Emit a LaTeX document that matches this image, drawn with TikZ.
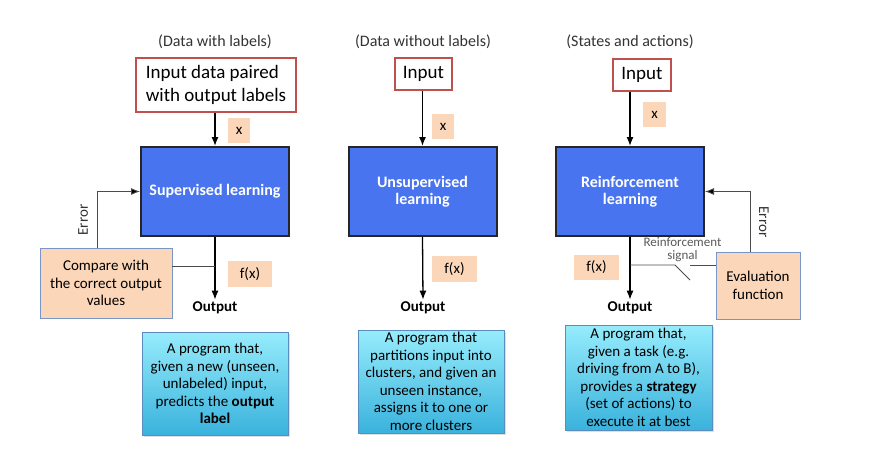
\documentclass[tikz,border=0pt]{standalone}
\usepackage{fontspec}
\setmainfont{Carlito}
\usetikzlibrary{arrows.meta,positioning,calc,shadows}
\definecolor{FrameRed}{RGB}{192,80,77}
\definecolor{LearnBlue}{RGB}{73,116,240}
\definecolor{SoftPeach}{RGB}{251,214,184}
\definecolor{SlateBlue}{RGB}{120,150,200}
\definecolor{CyanTop}{RGB}{150,236,252}
\definecolor{CyanLow}{RGB}{58,178,220}
\definecolor{CyanEdge}{RGB}{90,140,190}
\newcommand{\pxfont}[2]{\fontsize{#1}{#2}\selectfont}
\tikzset{
  heading/.style={font=\pxfont{16}{19},text=black!80},
  inputbox/.style={draw=FrameRed,line width=1.6pt,fill=white,
    font=\pxfont{19}{23},inner sep=0pt,minimum height=32pt},
  learner/.style={draw=black!85,line width=2pt,fill=LearnBlue,text=white,
    font=\pxfont{16}{17}\bfseries,minimum width=148pt,minimum height=89pt,
    align=center},
  tag/.style={fill=SoftPeach,font=\pxfont{15}{18},minimum height=25pt,
    inner sep=0pt},
  judge/.style={draw=SlateBlue,fill=SoftPeach,font=\pxfont{15}{17.7},
    align=center,inner sep=0pt},
  outlabel/.style={font=\pxfont{15}{18}\bfseries,inner sep=2pt},
  summary/.style={draw=CyanEdge,top color=CyanTop,bottom color=CyanLow,
    font=\pxfont{15}{17.5},align=center,minimum width=146pt,
    minimum height=103pt,inner sep=0pt,
    drop shadow={opacity=0.25,shadow xshift=1.5pt,shadow yshift=-1.5pt}},
  arrow/.style={-{Latex[length=9pt,width=7pt]},line width=1.3pt,black},
  feedback/.style={line width=0.8pt,black!70},
  feedarrow/.style={feedback,-{Latex[length=9pt,width=7pt,fill=black]}},
  note/.style={font=\pxfont{15}{18},text=black!80},
  signal/.style={font=\pxfont{13}{13.3},text=black!65,align=center,inner sep=0pt}
}

\begin{document}
\begin{tikzpicture}[x=1pt,y=-1pt]
\useasboundingbox (0,0) rectangle (884,458);

% headings
\node[heading] (head1) at (215,42) {(Data with labels)};
\node[heading] (head2) at (423,42) {(Data without labels)};
\node[heading] (head3) at (630,42) {(States and actions)};

% inputs
\node[inputbox,minimum width=160pt,minimum height=54pt,align=left] (in1) at (216,85)
  {Input data paired\\with output labels};
\node[inputbox,minimum width=57pt] (in2) at (423.5,74) {Input};
\node[inputbox,minimum width=58pt] (in3) at (642,75) {Input};

% learners
\node[learner] (learn1) at (215,191.5) {Supervised learning};
\node[learner] (learn2) at (422.5,191.5) {Unsupervised\\learning};
\node[learner] (learn3) at (630,191.5) {Reinforcement\\learning};

% x and f(x) tags
\node[tag,minimum width=22pt] (x1) at (239,130.5) {x};
\node[tag,minimum width=22pt] (x2) at (443,126.5) {x};
\node[tag,minimum width=23pt] (x3) at (654.5,114.5) {x};
\node[tag,minimum width=44pt,minimum height=26pt] (f1) at (250,274) {f(x)};
\node[tag,minimum width=45pt,minimum height=26pt] (f2) at (454.5,269) {f(x)};
\node[tag,minimum width=45pt] (f3) at (596.5,267.5) {f(x)};

% outputs
\node[outlabel] (out1) at (215,308) {Output};
\node[outlabel] (out2) at (423,308) {Output};
\node[outlabel] (out3) at (630,308) {Output};

\draw[arrow] (learn1.north |- in1.south) -- (learn1.north);
\draw[arrow] (learn2.north |- in2.south) -- (learn2.north);
\draw[arrow] (learn3.north |- in3.south) -- (learn3.north);
\draw[arrow] (learn1.south) -- (out1.north);
\draw[arrow] (learn2.south) -- (out2.north);
\draw[arrow] (learn3.south) -- (out3.north);

% supervised feedback
\node[judge,minimum width=132pt,minimum height=70pt] (judge1) at (106,283)
  {Compare with\\the correct output\\values};
\draw[feedback] ([yshift=17pt]judge1.east) -- ([yshift=17pt]judge1.east -| learn1.south);
\draw[feedarrow] ([xshift=-9pt]judge1.north) |- (learn1.west);
\node[note,rotate=90] (err1) at (83,220) {Error};

% reinforcement feedback
\node[judge,minimum width=84pt,minimum height=67pt] (judge3) at (758,285.5)
  {Evaluation\\function};
\draw[feedarrow] ([xshift=-8pt]judge3.north) |- (learn3.east);
\node[note,rotate=-90] (err3) at (764,222) {Error};
\coordinate (sw3a) at (675,265);
\coordinate (sw3b) at (690,265);
\coordinate (sw3c) at (690,280);
\draw[feedback] (learn3.south |- sw3a) -- (sw3a) -- (sw3c);
\draw[feedback] (sw3b) -- (sw3b -| judge3.west);
\node[signal] (sig3) at (682.5,249.5) {Reinforcement\\signal};

% summaries
\node[summary] (sum1) at (215,383.5)
  {A program that,\\given a new (unseen,\\unlabeled) input,\\predicts the \textbf{output}\\\textbf{label}};
\node[summary] (sum2) at (431,381.5)
  {A program that\\partitions input into\\clusters, and given an\\unseen instance,\\assigns it to one or\\more clusters};
\node[summary,minimum width=147pt,minimum height=105pt] (sum3) at (638.5,377.5)
  {A program that,\\given a task (e.g.\\driving from A to B),\\provides a \textbf{strategy}\\(set of actions) to\\execute it at best};

\end{tikzpicture}
\end{document}
